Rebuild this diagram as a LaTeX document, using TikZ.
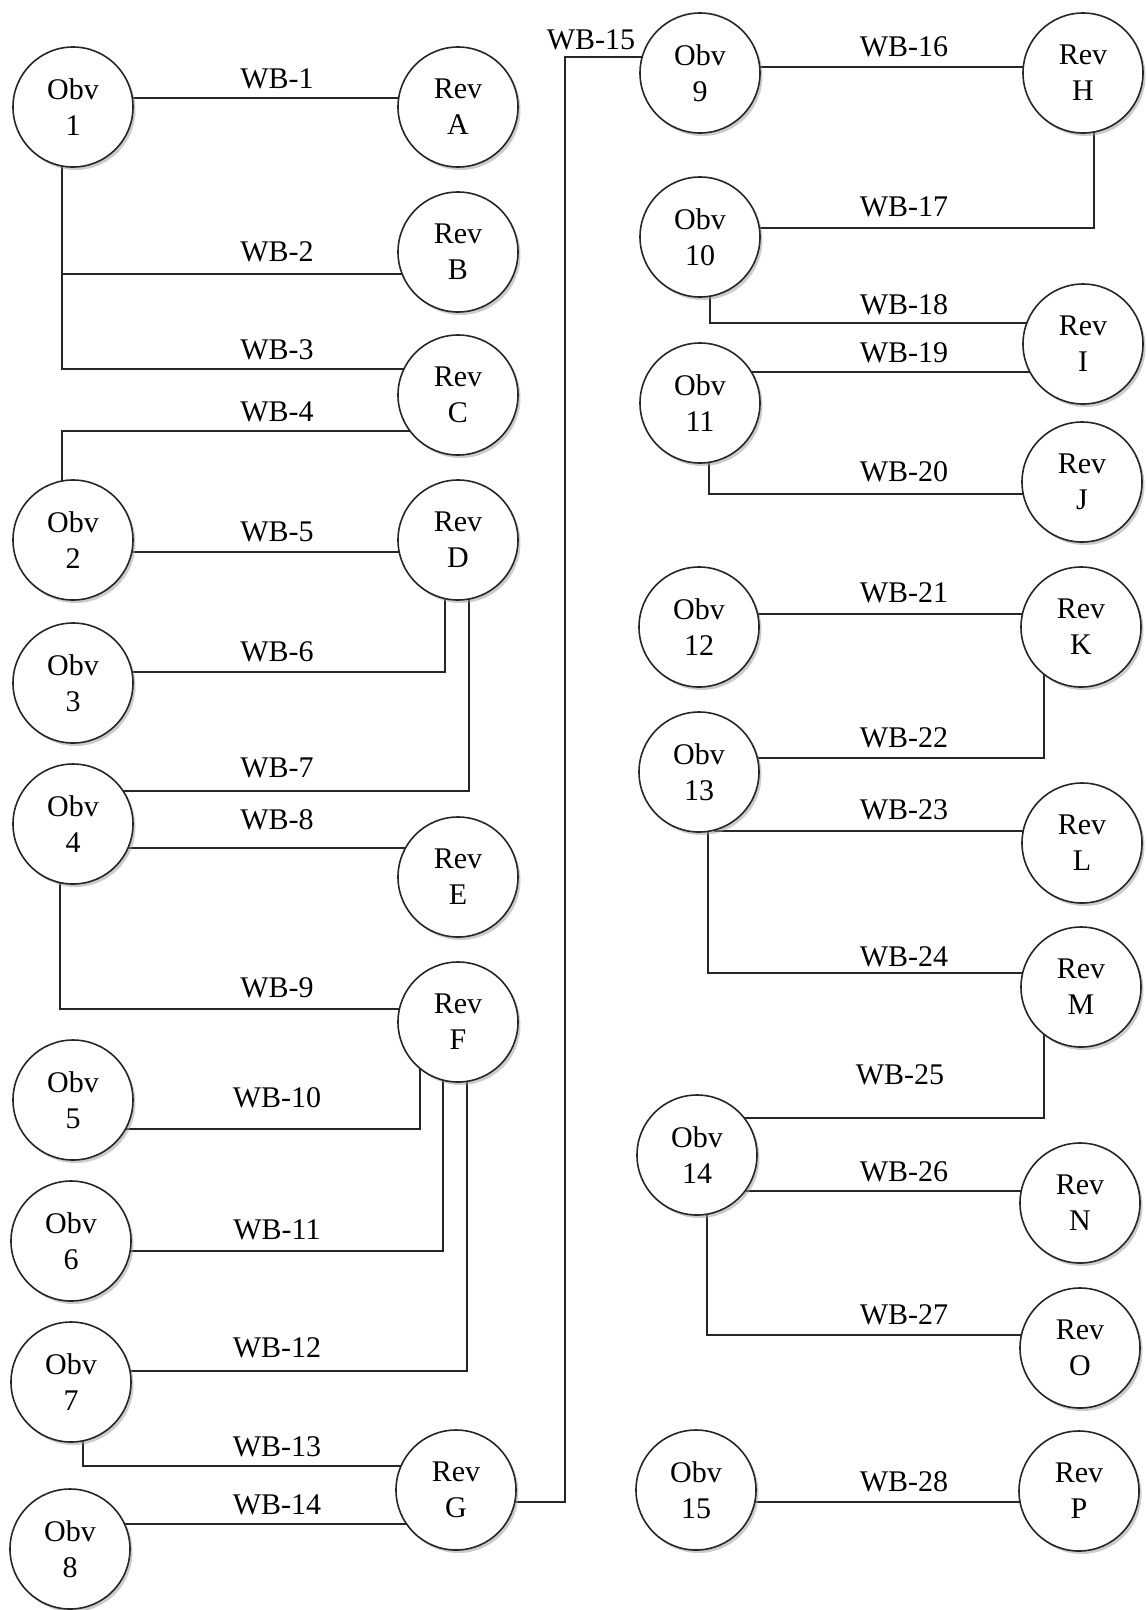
\documentclass[tikz,border=0pt]{standalone}
\usepackage{fontspec}
\setmainfont{Liberation Serif}
\usetikzlibrary{backgrounds}
\usetikzlibrary{shadows}

\begin{document}
\begin{tikzpicture}[
    x=1pt, y=-1pt,
    every node/.style={font=\fontsize{30}{36}\selectfont},
    face/.style={draw=black!85, line width=1.6pt, circle, fill=white, minimum size=120pt, inner sep=0pt, align=center,
        drop shadow={shadow xshift=2.5pt, shadow yshift=-3pt, fill=black!40}},
    wb/.style={inner sep=0pt},
    link/.style={draw=black!85, line width=1.8pt}
]
\useasboundingbox (0,0) rectangle (1147,1610);

\node[face] (obv1) at (73,107) {Obv\\1};
\node[face] (obv2) at (73,540) {Obv\\2};
\node[face] (obv3) at (73,683) {Obv\\3};
\node[face] (obv4) at (73,824) {Obv\\4};
\node[face] (obv5) at (73,1100) {Obv\\5};
\node[face] (obv6) at (71,1241) {Obv\\6};
\node[face] (obv7) at (71,1382) {Obv\\7};
\node[face] (obv8) at (70,1549) {Obv\\8};
\node[face] (reva) at (458,107) {Rev\\A};
\node[face] (revb) at (458,252) {Rev\\B};
\node[face] (revc) at (458,395) {Rev\\C};
\node[face] (revd) at (458,540) {Rev\\D};
\node[face] (reve) at (458,877) {Rev\\E};
\node[face] (revf) at (458,1022) {Rev\\F};
\node[face] (revg) at (456,1490) {Rev\\G};

\node[face] (obv9) at (700,73) {Obv\\9};
\node[face] (obv10) at (700,237) {Obv\\10};
\node[face] (obv11) at (700,403) {Obv\\11};
\node[face] (obv12) at (699,627) {Obv\\12};
\node[face] (obv13) at (699,772) {Obv\\13};
\node[face] (obv14) at (697,1155) {Obv\\14};
\node[face] (obv15) at (696,1490) {Obv\\15};
\node[face] (revh) at (1083,73) {Rev\\H};
\node[face] (revi) at (1083,344) {Rev\\I};
\node[face] (revj) at (1082,482) {Rev\\J};
\node[face] (revk) at (1081,627) {Rev\\K};
\node[face] (revl) at (1082,843) {Rev\\L};
\node[face] (revm) at (1081,987) {Rev\\M};
\node[face] (revn) at (1080,1203) {Rev\\N};
\node[face] (revo) at (1080,1348) {Rev\\O};
\node[face] (revp) at (1079,1491) {Rev\\P};

\coordinate (bus) at (565,57);

\node[wb] (wb1) at (277,79) {WB-1};
\node[wb] (wb2) at (277,252) {WB-2};
\node[wb] (wb3) at (277,350) {WB-3};
\node[wb] (wb4) at (277,412) {WB-4};
\node[wb] (wb5) at (277,532) {WB-5};
\node[wb] (wb6) at (277,652) {WB-6};
\node[wb] (wb7) at (277,768) {WB-7};
\node[wb] (wb8) at (277,820) {WB-8};
\node[wb] (wb9) at (277,988) {WB-9};
\node[wb] (wb10) at (277,1098) {WB-10};
\node[wb] (wb11) at (277,1230) {WB-11};
\node[wb] (wb12) at (277,1348) {WB-12};
\node[wb] (wb13) at (277,1447) {WB-13};
\node[wb] (wb14) at (277,1505) {WB-14};
\node[wb] (wb15) at (591,40) {WB-15};
\node[wb] (wb16) at (904,47) {WB-16};
\node[wb] (wb17) at (904,207) {WB-17};
\node[wb] (wb18) at (904,305) {WB-18};
\node[wb] (wb19) at (904,353) {WB-19};
\node[wb] (wb20) at (904,472) {WB-20};
\node[wb] (wb21) at (904,593) {WB-21};
\node[wb] (wb22) at (904,738) {WB-22};
\node[wb] (wb23) at (904,810) {WB-23};
\node[wb] (wb24) at (904,957) {WB-24};
\node[wb] (wb25) at (900,1075) {WB-25};
\node[wb] (wb26) at (904,1172) {WB-26};
\node[wb] (wb27) at (904,1315) {WB-27};
\node[wb] (wb28) at (904,1482) {WB-28};

\begin{scope}[on background layer]
\draw[link] ([yshift=9pt]obv1.center) -- ([yshift=9pt]obv1.center -| reva);
\draw[link] ([xshift=-11pt]obv1.center) |- ([yshift=-22pt]revb.center);
\draw[link] ([xshift=-11pt]obv1.center) |- ([yshift=26pt]revc.center);
\draw[link] ([xshift=-11pt]obv2.center) |- ([yshift=-36pt]revc.center);
\draw[link] ([yshift=-12pt]obv2.center) -- ([yshift=-12pt]obv2.center -| revd);
\draw[link] ([yshift=11pt]obv3.center) -| ([xshift=-13pt]revd.center);
\draw[link] ([xshift=11pt]revd.center) |- ([yshift=33pt]obv4.center);
\draw[link] ([yshift=-24pt]obv4.center) -- ([yshift=-24pt]obv4.center -| reve);
\draw[link] ([xshift=-13pt]obv4.center) |- ([yshift=13pt]revf.center);
\draw[link] ([yshift=-29pt]obv5.center) -| ([xshift=-38pt]revf.center);
\draw[link] ([yshift=-10pt]obv6.center) -| ([xshift=-15pt]revf.center);
\draw[link] ([yshift=11pt]obv7.center) -| ([xshift=9pt]revf.center);
\draw[link] ([xshift=12pt]obv7.center) |- ([yshift=24pt]revg.center);
\draw[link] ([yshift=25pt]obv8.center) -- ([yshift=25pt]obv8.center -| revg);
\draw[link] ([yshift=-12pt]revg.center) -| (bus) -- ([yshift=16pt]obv9.center);
\draw[link] ([yshift=6pt]obv9.center) -- ([yshift=6pt]obv9.center -| revh);
\draw[link] ([xshift=11pt]revh.center) |- ([yshift=9pt]obv10.center);
\draw[link] ([xshift=10pt]obv10.center) |- ([yshift=21pt]revi.center);
\draw[link] ([yshift=31pt]obv11.center) -- ([yshift=31pt]obv11.center -| revi);
\draw[link] ([xshift=9pt]obv11.center) |- ([yshift=-12pt]revj.center);
\draw[link] ([yshift=13pt]obv12.center) -- ([yshift=13pt]obv12.center -| revk);
\draw[link] ([xshift=-37pt]revk.center) |- ([yshift=14pt]obv13.center);
\draw[link] (obv13.284) -- (obv13.284 -| revl);
\draw[link] ([xshift=9pt]obv13.center) |- ([yshift=14pt]revm.center);
\draw[link] ([xshift=-37pt]revm.center) |- ([yshift=37pt]obv14.center);
\draw[link] ([yshift=-36pt]obv14.center) -- ([yshift=-36pt]obv14.center -| revn);
\draw[link] ([xshift=10pt]obv14.center) |- ([yshift=13pt]revo.center);
\draw[link] ([yshift=-12pt]obv15.center) -- ([yshift=-12pt]obv15.center -| revp);
\end{scope}
\end{tikzpicture}
\end{document}
